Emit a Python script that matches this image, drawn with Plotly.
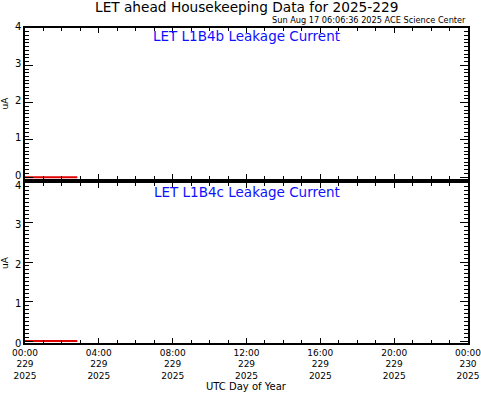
import plotly.graph_objects as go
from plotly.subplots import make_subplots

# Data
times = ["2025-08-17 00:00", "2025-08-17 00:30", "2025-08-17 01:00", "2025-08-17 01:30",
         "2025-08-17 02:00", "2025-08-17 02:30", "2025-08-17 02:50"]
l1b4b = [0.0, 0.0, 0.0, 0.0, 0.0, 0.0, 0.0]
l1b4c = [0.0, 0.0, 0.0, 0.0, 0.0, 0.0, 0.0]
tick_vals = ["2025-08-17 00:00", "2025-08-17 04:00", "2025-08-17 08:00", "2025-08-17 12:00",
             "2025-08-17 16:00", "2025-08-17 20:00", "2025-08-18 00:00"]
tick_text = ["00:00<br>229<br>2025", "04:00<br>229<br>2025", "08:00<br>229<br>2025",
             "12:00<br>229<br>2025", "16:00<br>229<br>2025", "20:00<br>229<br>2025",
             "00:00<br>230<br>2025"]
panel_titles = ["LET L1B4b Leakage Current", "LET L1B4c Leakage Current"]

fig = make_subplots(rows=2, cols=1, shared_xaxes=True, vertical_spacing=4 / 315,
                    row_heights=[151, 160])
for i, vals in enumerate([l1b4b, l1b4c]):
    fig.add_trace(go.Scatter(x=times, y=vals, mode="lines",
                             line=dict(color="#e00000", width=2), showlegend=False),
                  row=i + 1, col=1)

font = "DejaVu Sans"
label_shift = {1: -2, 2: 2}
for r in (1, 2):
    fig.update_xaxes(row=r, col=1, range=["2025-08-17 00:00", "2025-08-18 00:00"],
                     tickmode="array", tickvals=tick_vals,
                     ticktext=tick_text if r == 2 else None,
                     showticklabels=(r == 2), ticks="inside", ticklen=5, tickwidth=1.2,
                     tickcolor="black", showline=True, linecolor="black", linewidth=1.5,
                     mirror="allticks", showgrid=False, zeroline=False, automargin=False,
                     ticklabeloverflow="allow",
                     minor=dict(tickmode="linear", tick0="2025-08-17 00:00", dtick=3600000,
                                ticks="inside", ticklen=3, tickcolor="black", showgrid=False),
                     tickfont=dict(family=font, size=9, color="black"))
    fig.update_yaxes(row=r, col=1, range=[-0.05, 4.0], tickmode="linear", tick0=0, dtick=1,
                     ticks="inside", ticklen=8, tickwidth=1.2, tickcolor="black",
                     showline=True, linecolor="black", linewidth=1.5, mirror="allticks",
                     showgrid=False, zeroline=False, automargin=False,
                     ticklabelshift=label_shift[r],
                     minor=dict(tickmode="linear", tick0=0, dtick=0.1, ticks="inside",
                                ticklen=4, tickcolor="black", showgrid=False),
                     title=dict(text="uA", font=dict(family=font, size=9, color="black"),
                                standoff=11),
                     tickfont=dict(family=font, size=10, color="black"))

fig.add_annotation(text="UTC Day of Year", xref="paper", yref="paper", x=0.5, y=0,
                   yshift=-43, showarrow=False, xanchor="center", yanchor="middle",
                   font=dict(family=font, size=10, color="black"))
fig.add_annotation(text="LET ahead Housekeeping Data for 2025-229", xref="paper", yref="paper",
                   x=0.5, y=1.0, yshift=21, showarrow=False, xanchor="center", yanchor="middle",
                   font=dict(family=font, size=13.7, color="black"))
fig.add_annotation(text="Sun Aug 17 06:06:36 2025 ACE Science Center", xref="paper", yref="paper",
                   x=1.0, y=1.0, yshift=8, showarrow=False, xanchor="right", yanchor="middle",
                   font=dict(family=font, size=8.2, color="black"))
fig.add_annotation(text=panel_titles[0], xref="x domain", yref="y domain", x=0.5, y=1.0,
                   yshift=-8, showarrow=False, xanchor="center", yanchor="middle",
                   font=dict(family=font, size=13.5, color="#1010ff"))
fig.add_annotation(text=panel_titles[1], xref="x2 domain", yref="y2 domain", x=0.5, y=1.0,
                   yshift=-9, showarrow=False, xanchor="center", yanchor="middle",
                   font=dict(family=font, size=13.5, color="#1010ff"))

fig.update_layout(width=481, height=393, margin=dict(l=25, r=13, t=28, b=50),
                  paper_bgcolor="white", plot_bgcolor="white")
# remove the default 8px page margin so the figure fills the window exactly
fig.write_html("out.html", config={"displayModeBar": False},
               post_script="document.body.style.margin='0';document.body.style.overflow='hidden';")
